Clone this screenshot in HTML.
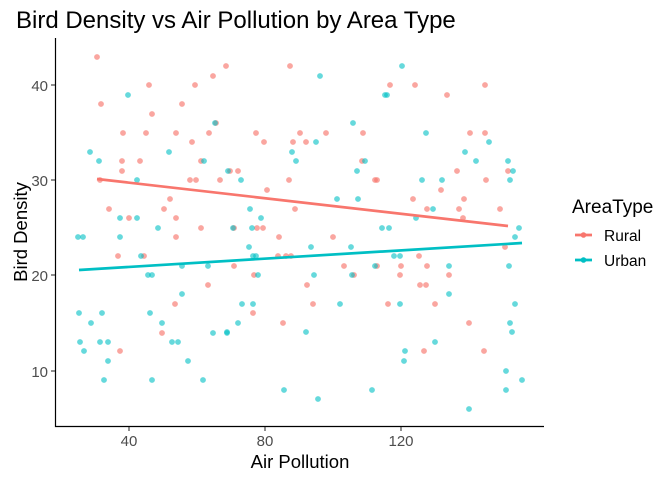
<!DOCTYPE html>
<html><head><meta charset="utf-8"><style>body{margin:0;background:#fff}svg{display:block}text{font-family:"Liberation Sans",Arial,sans-serif}</style></head><body>
<svg width="672" height="480" viewBox="0 0 672 480" xmlns="http://www.w3.org/2000/svg">
<text x="16" y="28" font-size="24" fill="#000">Bird Density vs Air Pollution by Area Type</text>
<g fill="#F8766D" fill-opacity="0.65">
<circle cx="97" cy="57" r="2.9"/><circle cx="226" cy="66" r="2.9"/><circle cx="213" cy="76" r="2.9"/><circle cx="149" cy="85" r="2.9"/><circle cx="195" cy="85" r="2.9"/><circle cx="101" cy="104" r="2.9"/><circle cx="182" cy="104" r="2.9"/><circle cx="152" cy="114" r="2.9"/><circle cx="216" cy="123" r="2.9"/><circle cx="123" cy="133" r="2.9"/><circle cx="146" cy="133" r="2.9"/><circle cx="176" cy="133" r="2.9"/><circle cx="209" cy="133" r="2.9"/><circle cx="192" cy="142" r="2.9"/><circle cx="122" cy="161" r="2.9"/><circle cx="140" cy="161" r="2.9"/><circle cx="201" cy="161" r="2.9"/><circle cx="122" cy="171" r="2.9"/><circle cx="230" cy="171" r="2.9"/><circle cx="100" cy="180" r="2.9"/><circle cx="190" cy="180" r="2.9"/><circle cx="196" cy="180" r="2.9"/><circle cx="220" cy="180" r="2.9"/><circle cx="170" cy="199" r="2.9"/><circle cx="109" cy="209" r="2.9"/><circle cx="164" cy="209" r="2.9"/><circle cx="129" cy="218" r="2.9"/><circle cx="176" cy="218" r="2.9"/><circle cx="201" cy="228" r="2.9"/><circle cx="176" cy="237" r="2.9"/><circle cx="118" cy="256" r="2.9"/><circle cx="144" cy="256" r="2.9"/><circle cx="208" cy="285" r="2.9"/><circle cx="175" cy="304" r="2.9"/><circle cx="162" cy="333" r="2.9"/><circle cx="120" cy="351" r="2.9"/><circle cx="290" cy="66" r="2.9"/><circle cx="256" cy="133" r="2.9"/><circle cx="300" cy="133" r="2.9"/><circle cx="326" cy="133" r="2.9"/><circle cx="264" cy="142" r="2.9"/><circle cx="293" cy="142" r="2.9"/><circle cx="306" cy="142" r="2.9"/><circle cx="363" cy="133" r="2.9"/><circle cx="362" cy="161" r="2.9"/><circle cx="238" cy="171" r="2.9"/><circle cx="289" cy="180" r="2.9"/><circle cx="375" cy="180" r="2.9"/><circle cx="377" cy="180" r="2.9"/><circle cx="267" cy="190" r="2.9"/><circle cx="295" cy="209" r="2.9"/><circle cx="234" cy="228" r="2.9"/><circle cx="257" cy="228" r="2.9"/><circle cx="263" cy="228" r="2.9"/><circle cx="279" cy="237" r="2.9"/><circle cx="333" cy="237" r="2.9"/><circle cx="278" cy="256" r="2.9"/><circle cx="286" cy="256" r="2.9"/><circle cx="291" cy="256" r="2.9"/><circle cx="234" cy="266" r="2.9"/><circle cx="344" cy="266" r="2.9"/><circle cx="377" cy="266" r="2.9"/><circle cx="254" cy="275" r="2.9"/><circle cx="354" cy="275" r="2.9"/><circle cx="307" cy="285" r="2.9"/><circle cx="313" cy="304" r="2.9"/><circle cx="253" cy="313" r="2.9"/><circle cx="283" cy="323" r="2.9"/><circle cx="390" cy="85" r="2.9"/><circle cx="415" cy="85" r="2.9"/><circle cx="485" cy="85" r="2.9"/><circle cx="447" cy="95" r="2.9"/><circle cx="470" cy="133" r="2.9"/><circle cx="485" cy="133" r="2.9"/><circle cx="457" cy="171" r="2.9"/><circle cx="508" cy="171" r="2.9"/><circle cx="486" cy="180" r="2.9"/><circle cx="441" cy="190" r="2.9"/><circle cx="413" cy="199" r="2.9"/><circle cx="464" cy="199" r="2.9"/><circle cx="427" cy="209" r="2.9"/><circle cx="459" cy="209" r="2.9"/><circle cx="500" cy="209" r="2.9"/><circle cx="463" cy="218" r="2.9"/><circle cx="505" cy="247" r="2.9"/><circle cx="419" cy="256" r="2.9"/><circle cx="401" cy="266" r="2.9"/><circle cx="427" cy="266" r="2.9"/><circle cx="400" cy="275" r="2.9"/><circle cx="449" cy="275" r="2.9"/><circle cx="420" cy="285" r="2.9"/><circle cx="426" cy="285" r="2.9"/><circle cx="388" cy="304" r="2.9"/><circle cx="435" cy="304" r="2.9"/><circle cx="469" cy="323" r="2.9"/><circle cx="424" cy="351" r="2.9"/><circle cx="484" cy="351" r="2.9"/>
</g>
<g fill="#00BFC4" fill-opacity="0.6">
<circle cx="215" cy="123" r="2.9"/><circle cx="204" cy="161" r="2.9"/><circle cx="228" cy="171" r="2.9"/><circle cx="137" cy="180" r="2.9"/><circle cx="120" cy="218" r="2.9"/><circle cx="137" cy="218" r="2.9"/><circle cx="158" cy="228" r="2.9"/><circle cx="128" cy="95" r="2.9"/><circle cx="90" cy="152" r="2.9"/><circle cx="99" cy="161" r="2.9"/><circle cx="169" cy="152" r="2.9"/><circle cx="78" cy="237" r="2.9"/><circle cx="83" cy="237" r="2.9"/><circle cx="120" cy="237" r="2.9"/><circle cx="141" cy="256" r="2.9"/><circle cx="182" cy="266" r="2.9"/><circle cx="208" cy="266" r="2.9"/><circle cx="148" cy="275" r="2.9"/><circle cx="152" cy="275" r="2.9"/><circle cx="182" cy="294" r="2.9"/><circle cx="79" cy="313" r="2.9"/><circle cx="102" cy="313" r="2.9"/><circle cx="150" cy="313" r="2.9"/><circle cx="91" cy="323" r="2.9"/><circle cx="162" cy="323" r="2.9"/><circle cx="213" cy="333" r="2.9"/><circle cx="227" cy="333" r="2.9"/><circle cx="80" cy="342" r="2.9"/><circle cx="100" cy="342" r="2.9"/><circle cx="108" cy="342" r="2.9"/><circle cx="172" cy="342" r="2.9"/><circle cx="178" cy="342" r="2.9"/><circle cx="84" cy="351" r="2.9"/><circle cx="108" cy="361" r="2.9"/><circle cx="188" cy="361" r="2.9"/><circle cx="104" cy="380" r="2.9"/><circle cx="152" cy="380" r="2.9"/><circle cx="203" cy="380" r="2.9"/><circle cx="320" cy="76" r="2.9"/><circle cx="385" cy="95" r="2.9"/><circle cx="353" cy="123" r="2.9"/><circle cx="316" cy="142" r="2.9"/><circle cx="292" cy="152" r="2.9"/><circle cx="296" cy="161" r="2.9"/><circle cx="365" cy="161" r="2.9"/><circle cx="357" cy="171" r="2.9"/><circle cx="241" cy="180" r="2.9"/><circle cx="337" cy="199" r="2.9"/><circle cx="358" cy="199" r="2.9"/><circle cx="250" cy="209" r="2.9"/><circle cx="261" cy="218" r="2.9"/><circle cx="233" cy="228" r="2.9"/><circle cx="252" cy="228" r="2.9"/><circle cx="382" cy="228" r="2.9"/><circle cx="249" cy="247" r="2.9"/><circle cx="311" cy="247" r="2.9"/><circle cx="351" cy="247" r="2.9"/><circle cx="253" cy="256" r="2.9"/><circle cx="256" cy="256" r="2.9"/><circle cx="375" cy="266" r="2.9"/><circle cx="258" cy="275" r="2.9"/><circle cx="314" cy="275" r="2.9"/><circle cx="352" cy="275" r="2.9"/><circle cx="242" cy="304" r="2.9"/><circle cx="253" cy="304" r="2.9"/><circle cx="340" cy="304" r="2.9"/><circle cx="238" cy="323" r="2.9"/><circle cx="227" cy="332" r="2.9"/><circle cx="306" cy="332" r="2.9"/><circle cx="284" cy="390" r="2.9"/><circle cx="318" cy="399" r="2.9"/><circle cx="372" cy="390" r="2.9"/><circle cx="402" cy="66" r="2.9"/><circle cx="387" cy="95" r="2.9"/><circle cx="426" cy="133" r="2.9"/><circle cx="489" cy="142" r="2.9"/><circle cx="465" cy="152" r="2.9"/><circle cx="476" cy="161" r="2.9"/><circle cx="508" cy="161" r="2.9"/><circle cx="513" cy="171" r="2.9"/><circle cx="422" cy="180" r="2.9"/><circle cx="442" cy="180" r="2.9"/><circle cx="510" cy="180" r="2.9"/><circle cx="433" cy="209" r="2.9"/><circle cx="416" cy="218" r="2.9"/><circle cx="389" cy="228" r="2.9"/><circle cx="519" cy="228" r="2.9"/><circle cx="515" cy="237" r="2.9"/><circle cx="394" cy="256" r="2.9"/><circle cx="400" cy="256" r="2.9"/><circle cx="449" cy="266" r="2.9"/><circle cx="509" cy="266" r="2.9"/><circle cx="449" cy="294" r="2.9"/><circle cx="400" cy="304" r="2.9"/><circle cx="515" cy="304" r="2.9"/><circle cx="510" cy="323" r="2.9"/><circle cx="512" cy="332" r="2.9"/><circle cx="435" cy="342" r="2.9"/><circle cx="405" cy="351" r="2.9"/><circle cx="404" cy="361" r="2.9"/><circle cx="506" cy="371" r="2.9"/><circle cx="522" cy="380" r="2.9"/><circle cx="506" cy="390" r="2.9"/><circle cx="469" cy="409" r="2.9"/>
</g>
<line x1="97" y1="179" x2="508" y2="226" stroke="#F8766D" stroke-width="2.7"/>
<line x1="79" y1="270" x2="522" y2="243" stroke="#00BFC4" stroke-width="2.7"/>
<path d="M55.5 38 V426.5 H544" fill="none" stroke="#000" stroke-width="1.2"/>
<g stroke="#333" stroke-width="1.1">
<line x1="51" y1="85" x2="55" y2="85"/><line x1="51" y1="180" x2="55" y2="180"/><line x1="51" y1="275" x2="55" y2="275"/><line x1="51" y1="371" x2="55" y2="371"/>
<line x1="129" y1="427" x2="129" y2="431"/><line x1="265" y1="427" x2="265" y2="431"/><line x1="401" y1="427" x2="401" y2="431"/>
</g>
<g font-size="15" fill="#4d4d4d" text-anchor="end">
<text x="48" y="91">40</text><text x="48" y="186">30</text><text x="48" y="281">20</text><text x="48" y="377">10</text>
</g>
<g font-size="15" fill="#4d4d4d" text-anchor="middle">
<text x="129" y="446">40</text><text x="265" y="446">80</text><text x="401" y="446">120</text>
</g>
<text x="300" y="468" font-size="18.5" text-anchor="middle">Air Pollution</text>
<text transform="translate(27,232) rotate(-90)" font-size="18.5" text-anchor="middle">Bird Density</text>
<text x="572" y="213" font-size="19">AreaType</text>
<line x1="575" y1="235" x2="592" y2="235" stroke="#F8766D" stroke-width="2.7"/><circle cx="583.5" cy="235" r="2.8" fill="#F8766D"/>
<line x1="575" y1="260" x2="592" y2="260" stroke="#00BFC4" stroke-width="2.7"/><circle cx="583.5" cy="260" r="2.8" fill="#00BFC4"/>
<text x="604" y="241" font-size="15.5">Rural</text>
<text x="604" y="266" font-size="15.5">Urban</text>
</svg>
</body></html>
